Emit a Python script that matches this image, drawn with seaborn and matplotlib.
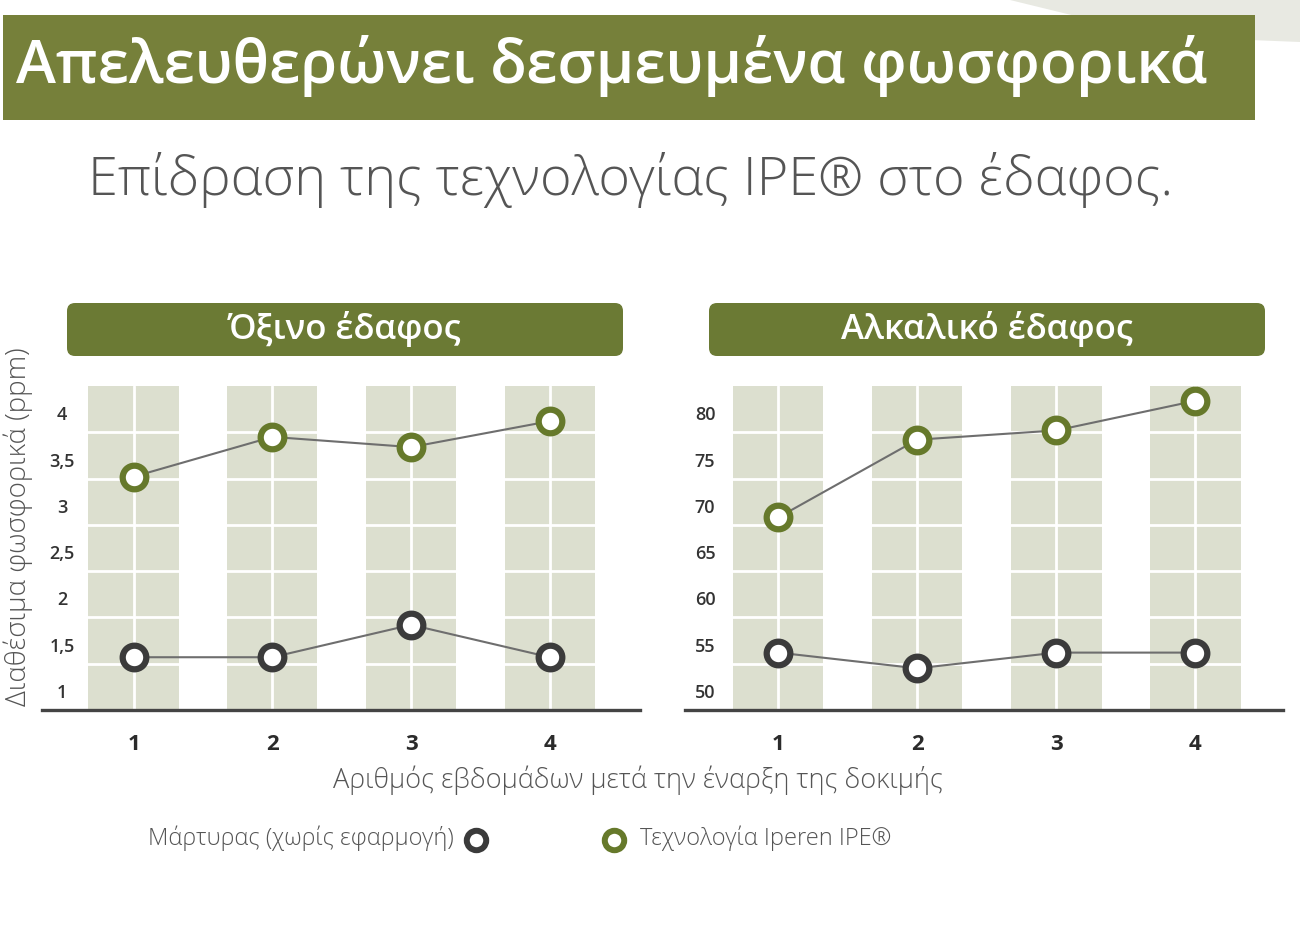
import numpy as np
import seaborn as sns
import matplotlib.pyplot as plt
from matplotlib.patches import Rectangle, FancyBboxPatch, Polygon
from matplotlib.lines import Line2D
from matplotlib.transforms import blended_transform_factory, ScaledTranslation

# Δεδομένα
weeks = [1, 2, 3, 4]
acid_control = [1.57, 1.57, 1.92, 1.57]
acid_ipe = [3.52, 3.95, 3.84, 4.12]
alk_control = [56.2, 54.5, 56.2, 56.2]
alk_ipe = [70.8, 79.2, 80.2, 83.4]

acid_ticks = [1, 1.5, 2, 2.5, 3, 3.5, 4]
acid_labels = ["1", "1,5", "2", "2,5", "3", "3,5", "4"]
alk_ticks = [50, 55, 60, 65, 70, 75, 80]
alk_labels = ["50", "55", "60", "65", "70", "75", "80"]

title = "Απελευθερώνει δεσμευμένα φωσφορικά"
subtitle = "Επίδραση της τεχνολογίας IPE® στο έδαφος."
panel_titles = ["Όξινο έδαφος", "Αλκαλικό έδαφος"]
ylabel = "Διαθέσιμα φωσφορικά (ppm)"
xlabel = "Αριθμός εβδομάδων μετά την έναρξη της δοκιμής"
legend_labels = ["Μάρτυρας (χωρίς εφαρμογή)", "Τεχνολογία Iperen IPE®"]

sns.set_style("white")
plt.rcParams['font.family'] = ['Open Sans', 'DejaVu Sans']

GREEN = "#6b7a34"
BANNER = "#76803a"
RING_GREEN = "#66792b"
RING_GREY = "#3b3b3b"
BAND = "#dcdfcf"
LINE = "#6e6e6e"
TXT = "#555555"

W, H = 1300, 939
fig = plt.figure(figsize=(13, 9.39), dpi=100)
fig.patch.set_facecolor("white")


def px(x, y):
    return x / W, 1 - y / H


# décor en haut à droite
fig.add_artist(Polygon([px(1010, 0), px(1300, 0), px(1300, 42), px(1200, 38), px(1100, 22)],
                       closed=True, transform=fig.transFigure, facecolor="#e8e9e2",
                       edgecolor="none", zorder=0))

# bandeau titre
fig.add_artist(Rectangle(px(3, 120), 1252 / W, 105 / H, transform=fig.transFigure,
                         facecolor=BANNER, edgecolor="none", zorder=1))
fig.text(*px(612, 66), title, color="white", fontsize=43.5, fontweight="semibold",
         ha="center", va="center", zorder=2)
fig.text(*px(631, 180), subtitle, color=TXT, fontsize=39, fontweight="light",
         ha="center", va="center")

axes_specs = [
    (42, (acid_control, acid_ipe), acid_ticks, acid_labels, (1, 4.5), (0.34, 4.65), 67),
    (685, (alk_control, alk_ipe), alk_ticks, alk_labels, (50, 85), (0.33, 4.63), 709),
]

for i, (left, (ctrl, ipe), ticks, labels, ylim, xlim, hx) in enumerate(axes_specs):
    ax = fig.add_axes([left / W, (H - 710) / H, 598 / W, 324 / H])
    ax.set_xlim(*xlim)
    ax.set_ylim(*ylim)

    for w in weeks:
        ax.axvspan(w - 0.325, w + 0.325, color=BAND, lw=0, zorder=0.5)
        ax.axvline(w, color="white", lw=2, zorder=0.7)
    for t in ticks[1:]:
        ax.axhline(t, color="white", lw=2, zorder=0.7)

    sns.lineplot(x=weeks, y=ctrl, ax=ax, color=LINE, lw=1.5, marker="o",
                 markersize=17, markerfacecolor="white", markeredgecolor=RING_GREY,
                 markeredgewidth=4.5, zorder=3)
    sns.lineplot(x=weeks, y=ipe, ax=ax, color=LINE, lw=1.5, marker="o",
                 markersize=17, markerfacecolor="white", markeredgecolor=RING_GREEN,
                 markeredgewidth=4.5, zorder=3)

    trans = blended_transform_factory(ax.transAxes, ax.transData) + \
        ScaledTranslation(0, 0.17, fig.dpi_scale_trans)
    for t, lab in zip(ticks, labels):
        ax.text(20 / 598, t, lab, transform=trans, ha="center", va="center",
                fontsize=13, fontweight="semibold", color="#333333")

    ax.set_yticks([])
    ax.set_xticks(weeks)
    ax.set_xticklabels([str(w) for w in weeks], fontsize=16, fontweight="bold",
                       color="#2b2b2b")
    ax.tick_params(axis="x", length=0, pad=17)
    ax.set_xlabel("")
    ax.set_ylabel("")
    for s in ["top", "left", "right"]:
        ax.spines[s].set_visible(False)
    ax.spines["bottom"].set_color("#444444")
    ax.spines["bottom"].set_linewidth(2.4)
    ax.set_facecolor("none")

    # en-tête de panneau
    fig.add_artist(FancyBboxPatch(((hx) / 100, (H - 356) / 100), 556 / 100, 53 / 100,
                                  boxstyle="round,pad=0,rounding_size=0.08",
                                  transform=fig.dpi_scale_trans, facecolor=GREEN,
                                  edgecolor="none"))
    fig.text(*px(hx + 278, 329), panel_titles[i], color="white", fontsize=25,
             fontweight="semibold", ha="center", va="center")

fig.text(*px(18, 527), ylabel, rotation=90, color=TXT, fontsize=20,
         fontweight="light", ha="center", va="center")
fig.text(*px(638, 780), xlabel, color=TXT, fontsize=19.5, fontweight="light",
         ha="center", va="center")

# légende
fig.text(*px(454, 838), legend_labels[0], color=TXT, fontsize=17,
         fontweight="light", ha="right", va="center")
fig.add_artist(Line2D([476 / W], [1 - 840 / H], transform=fig.transFigure, marker="o",
                      markersize=14, markerfacecolor="white",
                      markeredgecolor=RING_GREY, markeredgewidth=4.3))
fig.add_artist(Line2D([614 / W], [1 - 840 / H], transform=fig.transFigure, marker="o",
                      markersize=14, markerfacecolor="white",
                      markeredgecolor=RING_GREEN, markeredgewidth=4.3))
fig.text(*px(640, 838), legend_labels[1], color=TXT, fontsize=17,
         fontweight="light", ha="left", va="center")

fig.savefig("out.png", dpi=100)
